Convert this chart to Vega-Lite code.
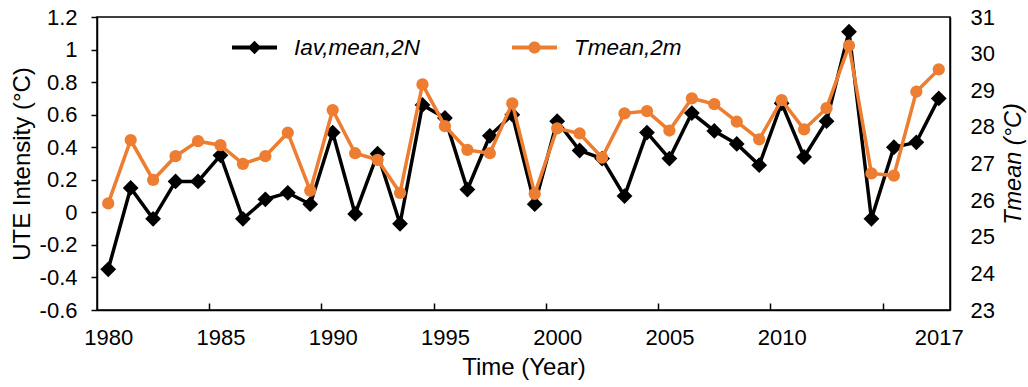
{
  "$schema": "https://vega.github.io/schema/vega-lite/v6.json",
  "width": 853,
  "height": 293,
  "autosize": {"type": "none"},
  "padding": {"left": 97, "top": 17, "right": 78, "bottom": 77},
  "background": "white",
  "config": {
    "font": "Liberation Sans",
    "view": {"stroke": "black", "strokeWidth": 1.5},
    "axis": {
      "domainColor": "black", "domainWidth": 1.5,
      "tickColor": "black", "tickWidth": 1.5,
      "labelColor": "black", "titleColor": "black",
      "labelFont": "Liberation Sans", "titleFont": "Liberation Sans",
      "labelFontSize": 22, "titleFontSize": 24, "titleFontWeight": "normal",
      "grid": false
    }
  },
  "data": {
    "values": [
      {"year": 1980, "ute": -0.35, "tmean": 25.91},
      {"year": 1981, "ute": 0.15, "tmean": 27.64},
      {"year": 1982, "ute": -0.04, "tmean": 26.55},
      {"year": 1983, "ute": 0.19, "tmean": 27.2},
      {"year": 1984, "ute": 0.19, "tmean": 27.61},
      {"year": 1985, "ute": 0.35, "tmean": 27.5},
      {"year": 1986, "ute": -0.04, "tmean": 26.99},
      {"year": 1987, "ute": 0.08, "tmean": 27.2},
      {"year": 1988, "ute": 0.12, "tmean": 27.84},
      {"year": 1989, "ute": 0.05, "tmean": 26.26},
      {"year": 1990, "ute": 0.49, "tmean": 28.46},
      {"year": 1991, "ute": -0.01, "tmean": 27.28},
      {"year": 1992, "ute": 0.36, "tmean": 27.1},
      {"year": 1993, "ute": -0.07, "tmean": 26.2},
      {"year": 1994, "ute": 0.66, "tmean": 29.16},
      {"year": 1995, "ute": 0.58, "tmean": 28.02},
      {"year": 1996, "ute": 0.14, "tmean": 27.37},
      {"year": 1997, "ute": 0.47, "tmean": 27.28},
      {"year": 1998, "ute": 0.6, "tmean": 28.64},
      {"year": 1999, "ute": 0.05, "tmean": 26.17},
      {"year": 2000, "ute": 0.56, "tmean": 27.96},
      {"year": 2001, "ute": 0.38, "tmean": 27.82},
      {"year": 2002, "ute": 0.33, "tmean": 27.16},
      {"year": 2003, "ute": 0.1, "tmean": 28.37},
      {"year": 2004, "ute": 0.49, "tmean": 28.43},
      {"year": 2005, "ute": 0.33, "tmean": 27.9},
      {"year": 2006, "ute": 0.61, "tmean": 28.78},
      {"year": 2007, "ute": 0.5, "tmean": 28.62},
      {"year": 2008, "ute": 0.42, "tmean": 28.14},
      {"year": 2009, "ute": 0.29, "tmean": 27.66},
      {"year": 2010, "ute": 0.67, "tmean": 28.73},
      {"year": 2011, "ute": 0.34, "tmean": 27.93},
      {"year": 2012, "ute": 0.56, "tmean": 28.51},
      {"year": 2013, "ute": 1.11, "tmean": 30.22},
      {"year": 2014, "ute": -0.04, "tmean": 26.73},
      {"year": 2015, "ute": 0.4, "tmean": 26.67},
      {"year": 2016, "ute": 0.43, "tmean": 28.96},
      {"year": 2017, "ute": 0.7, "tmean": 29.57}
    ]
  },
  "encoding": {
    "x": {
      "field": "year",
      "type": "quantitative",
      "scale": {"domain": [1979.5, 2017.5], "nice": false, "zero": false},
      "axis": {
        "values": [1980, 1984.5, 1985, 1989.5, 1990, 1994.5, 1995, 1999.5, 2000, 2004.5, 2005, 2009.5, 2010, 2014.5, 2017],
        "format": "d",
        "labelExpr": "datum.value % 1 === 0 ? datum.label : ''",
        "tickSize": -7,
        "tickOpacity": {"condition": {"test": "datum.value % 1 !== 0", "value": 1}, "value": 0},
        "labelPadding": 24,
        "labelOverlap": false,
        "labelBound": false,
        "labelFlush": false,
        "title": "Time (Year)",
        "titlePadding": 7
      }
    }
  },
  "layer": [
    {
      "mark": {
        "type": "line",
        "strokeWidth": 3.5,
        "point": {"shape": "diamond", "size": 250, "filled": true, "opacity": 1}
      },
      "encoding": {
        "y": {
          "field": "ute",
          "type": "quantitative",
          "scale": {"domain": [-0.6, 1.2], "nice": false, "zero": false},
          "axis": {
            "orient": "left",
            "values": [-0.6, -0.4, -0.2, 0, 0.2, 0.4, 0.6, 0.8, 1, 1.2],
            "labelExpr": "datum.value < 0 ? '-' + format(-datum.value, '.1~f') : format(datum.value, '.1~f')",
            "tickSize": 6,
            "labelPadding": 14,
            "title": "UTE Intensity (°C)",
            "titlePadding": 5
          }
        },
        "color": {
          "datum": "Iav,mean,2N",
          "type": "nominal",
          "scale": {"domain": ["Iav,mean,2N", "Tmean,2m"], "range": ["#000000", "#ED7D31"]},
          "legend": {
            "title": null,
            "orient": "none",
            "legendX": 135,
            "legendY": 8,
            "direction": "horizontal",
            "padding": 0,
            "symbolSize": 2025,
            "symbolStrokeWidth": 0,
            "labelFont": "Liberation Sans",
            "labelFontSize": 22.5,
            "labelFontStyle": "italic",
            "labelColor": "black",
            "labelOffset": 17,
            "labelLimit": 400,
            "columnPadding": 92,
            "encode": {
              "symbols": {
                "update": {
                  "shape": {"signal": "datum.value === 'Iav,mean,2N' ? 'M-1,-0.089H1V0.089H-1Z M0,-0.3L0.3,0L0,0.3L-0.3,0Z' : 'M-1,-0.089H1V0.089H-1Z M0.27,0A0.27,0.27 0 1,1 -0.27,0A0.27,0.27 0 1,1 0.27,0Z'"},
                  "fill": {"signal": "datum.value === 'Iav,mean,2N' ? '#000000' : '#ED7D31'"},
                  "fillOpacity": {"value": 1},
                  "opacity": {"value": 1},
                  "stroke": {"value": "transparent"},
                  "strokeWidth": {"value": 0},
                  "size": {"value": 2025}
                }
              }
            }
          }
        }
      }
    },
    {
      "mark": {
        "type": "line",
        "strokeWidth": 3.5,
        "point": {"shape": "circle", "size": 150, "filled": true, "opacity": 1}
      },
      "encoding": {
        "y": {
          "field": "tmean",
          "type": "quantitative",
          "scale": {"domain": [23, 31], "nice": false, "zero": false},
          "axis": {
            "orient": "right",
            "values": [23, 24, 25, 26, 27, 28, 29, 30, 31],
            "format": "d",
            "ticks": false,
            "labelPadding": 20,
            "title": "Tmean (°C)",
            "titleFontStyle": "italic",
            "titleFontSize": 23.5,
            "titleAngle": 270,
            "titleBaseline": "top",
            "titlePadding": 7
          }
        },
        "color": {
          "datum": "Tmean,2m",
          "type": "nominal"
        }
      }
    }
  ],
  "resolve": {"scale": {"y": "independent"}}
}
